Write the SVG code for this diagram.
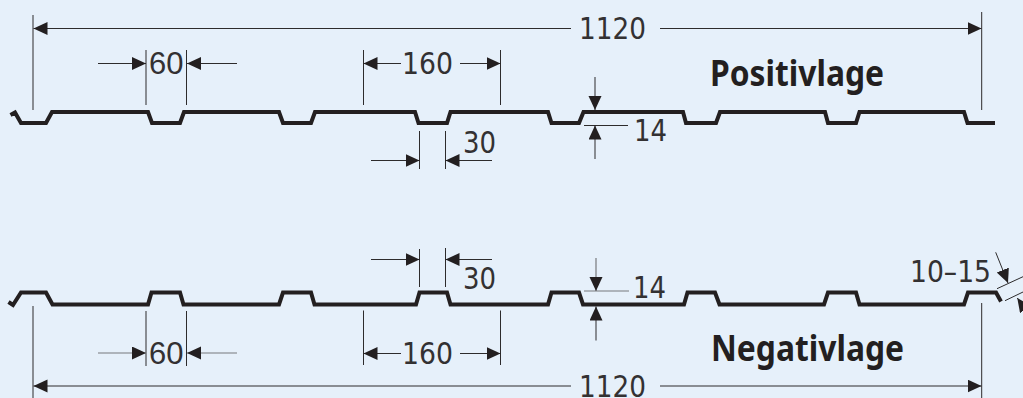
<svg xmlns="http://www.w3.org/2000/svg" width="1023" height="398" viewBox="0 0 1023 398">
<style>
.bg{fill:#e6f0fa}
.profile{fill:none;stroke:#231f20;stroke-width:4;stroke-linejoin:miter}
.ext{fill:none;stroke:#2d2b2c;stroke-width:1}
.dim{fill:none;stroke:#2d2b2c;stroke-width:1;marker-end:url(#head)}
.soft{stroke:#77797c;stroke-width:1.2}
.num{font-family:"DejaVu Sans",sans-serif;font-size:31px;fill:#333132}
.h{font-family:"Liberation Sans",Arial,sans-serif;font-size:31px;fill:#333132}
.title{font-family:"Noto Sans","Open Sans",sans-serif;font-weight:700;font-size:36px;fill:#231f20;font-variant-ligatures:none}
</style>
<defs>
<marker id="head" markerUnits="userSpaceOnUse" markerWidth="15" markerHeight="14" refX="14" refY="6.5" orient="auto">
<path d="M0 0L14 6.5L0 13Z" fill="#231f20"/>
</marker>
</defs>
<rect class="bg" width="1023" height="398"/>
<g id="profile-positivlage">
<path class="profile" d="M10.500 115L15 112.500L21 123H46L52 112H148L152 123H180L184 112H279L283 123H311L315 112H415L418.500 123H447L450.500 112H548L551.500 123H579L583.500 112H683L686 123H716L720 112H825L828 123H856L859.500 112H964L967.500 123H995"/>
</g>
<g id="profile-negativlage">
<path class="profile" d="M8.500 302L13 305L21 292.500H46L52.500 304.500H148L151.500 292.500H180L183.500 304.500H279L283 292.500H311L314.500 304.500H416L419.500 292.500H447L450.500 304.500H548L551.500 292.500H579L583 304.500H684L687.500 292.500H715L719.500 304.500H824L828 292.500H856L859.500 304.500H964L968 292.500H996L1001 301.500"/>
</g>
<g id="connectors">
<path class="ext" d="M33 15V110M981.700 12V110M146 50V105M186.500 50V105M363.500 50V105M500.500 50V105M419.500 131V169M445.500 131V169M584 125.500H628"/>
<path class="dim" d="M571 28.500H33.500"/>
<path class="dim" d="M660 28.500H981.500"/>
<path class="dim" d="M98 63.500H146"/>
<path class="dim" d="M237 63.500H187"/>
<path class="dim" d="M401 63.500H363.500"/>
<path class="dim" d="M460 63.500H500.500"/>
<path class="dim" d="M371 160.500H419.500"/>
<path class="dim" d="M492 160.500H445.500"/>
<path class="dim" d="M595 77V110"/>
<path class="dim" d="M595 159V125.500"/>
<path class="ext" d="M33 306V398M981.700 303V398M146 311V366M186.500 311V366M363.500 310.500V365M500.500 310.500V365M419.500 249V287M445.500 248V287M997 288.700L1023 276.700M1005 300.700L1023 292"/>
<path class="ext soft" d="M584 291H629"/>
<path class="dim" d="M571 386H33.500"/>
<path class="dim" d="M660 386H981.500"/>
<path class="dim soft" d="M98 353H146"/>
<path class="dim soft" d="M237 353H187"/>
<path class="dim" d="M401 353.500H363.500"/>
<path class="dim" d="M460 353.500H500.500"/>
<path class="dim" d="M371 259.500H419.500"/>
<path class="dim" d="M492 259.500H445.500"/>
<path class="dim soft" d="M596 258V291"/>
<path class="dim" d="M596 340.500V306.500"/>
<path class="dim" d="M995.700 252.300L1008 283"/>
<path class="dim" d="M1030 316L1017.300 298"/>
</g>
<g id="label-1120-top"><text class="num" x="579" y="39" textLength="67" lengthAdjust="spacingAndGlyphs">1120</text></g>
<g id="label-60-top"><text class="h" x="149" y="74">60</text></g>
<g id="label-160-top"><text class="num" x="402" y="74" textLength="51" lengthAdjust="spacingAndGlyphs">160</text></g>
<g id="label-30-top"><text class="num" x="463" y="153" textLength="33" lengthAdjust="spacingAndGlyphs">30</text></g>
<g id="label-14-top"><text class="num" x="634" y="141" textLength="33" lengthAdjust="spacingAndGlyphs">14</text></g>
<g id="label-positivlage"><text class="title" x="710" y="86" textLength="174" lengthAdjust="spacingAndGlyphs">Positivlage</text></g>
<g id="label-1120-bottom"><text class="num" x="579" y="397" textLength="67" lengthAdjust="spacingAndGlyphs">1120</text></g>
<g id="label-60-bottom"><text class="h" x="149" y="364">60</text></g>
<g id="label-160-bottom"><text class="num" x="402" y="364" textLength="51" lengthAdjust="spacingAndGlyphs">160</text></g>
<g id="label-30-bottom"><text class="num" x="463" y="289" textLength="33" lengthAdjust="spacingAndGlyphs">30</text></g>
<g id="label-14-bottom"><text class="num" x="633" y="297.500" textLength="33" lengthAdjust="spacingAndGlyphs">14</text></g>
<g id="label-10-15"><text class="num" x="910" y="281.500" textLength="81" lengthAdjust="spacingAndGlyphs">10–15</text></g>
<g id="label-negativlage"><text class="title" x="711" y="361" textLength="193" lengthAdjust="spacingAndGlyphs">Negativlage</text></g>
</svg>
